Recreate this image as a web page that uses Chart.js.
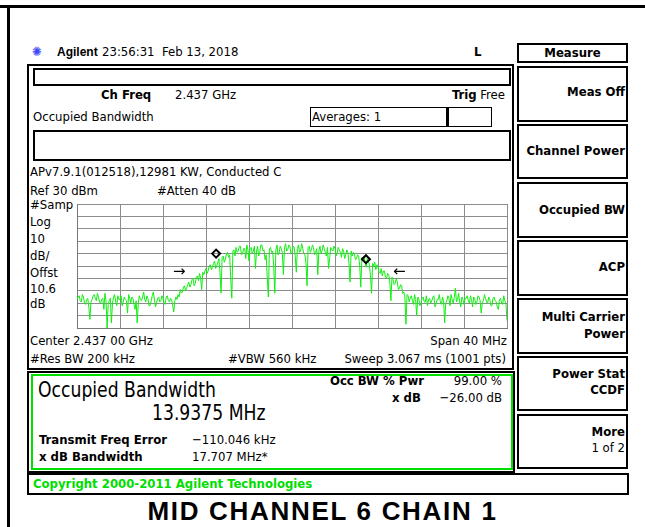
<!DOCTYPE html>
<html>
<head>
<meta charset="utf-8">
<script src="https://cdn.jsdelivr.net/npm/chart.js@4"></script>
<style>
body { margin: 0; background: #fff; }
#page { position: relative; width: 645px; height: 527px; overflow: hidden; background: #fff; }
.t { position: absolute; font-family: "DejaVu Sans Condensed", "DejaVu Sans", sans-serif; font-size: 13px; line-height: 14px; white-space: nowrap; color: #000; }
.b { font-weight: bold; }
.big { font-size: 22px; line-height: 24px; transform: scaleX(0.87); transform-origin: left center; }
.box { position: absolute; box-sizing: border-box; border: 2px solid #000; }
.green { color: #00dd00; }
#plot { position: absolute; left: 71px; top: 198px; width: 442px; height: 136px; }
#title { position: absolute; left: 0; width: 645px; top: 496px; text-align: center; font-family: "Liberation Sans", Arial, sans-serif; font-weight: bold; font-size: 26px; line-height: 30px; letter-spacing: 1.7px; }
</style>
</head>
<body>
<div id="page">
  <!-- outer frame -->
  <div style="position:absolute;left:0;top:5px;width:645px;height:3px;background:#000"></div>
  <div style="position:absolute;left:7px;top:5px;width:3px;height:522px;background:#000"></div>

  <!-- header -->
  <div class="t" style="left:32px;top:45px;color:#3d4cf5">✺</div>
  <div class="t b" style="left:57px;top:45px;font-family:'Liberation Sans',Arial,sans-serif;font-size:12px">Agilent</div>
  <div class="t" style="left:102px;top:45px">23:56:31&nbsp;&nbsp;Feb 13, 2018</div>
  <div class="t b" style="left:474px;top:45px">L</div>

  <!-- main screen frame -->
  <div class="box" style="left:27px;top:64px;width:487px;height:306px"></div>
  <div class="box" style="left:33px;top:68px;width:478px;height:18px"></div>
  <div class="t b" style="left:101px;top:88px">Ch Freq</div>
  <div class="t" style="left:175px;top:88px">2.437 GHz</div>
  <div class="t" style="right:140px;top:88px"><b>Trig</b>&nbsp;Free</div>
  <div class="t" style="left:33px;top:110px">Occupied Bandwidth</div>
  <div class="box" style="left:310px;top:107px;width:139px;height:20px;border-width:1.5px"></div>
  <div class="box" style="left:446px;top:107px;width:46px;height:20px;border-width:1.5px;border-left-width:3px"></div>
  <div class="t" style="left:312px;top:110px">Averages: 1</div>
  <div class="box" style="left:33px;top:130px;width:478px;height:31px"></div>
  <div class="t" style="left:30px;top:165px">APv7.9.1(012518),12981 KW, Conducted C</div>
  <div class="t" style="left:30px;top:184px">Ref 30 dBm</div>
  <div class="t" style="left:157px;top:184px">#Atten 40 dB</div>
  <div class="t" style="left:30px;top:198px">#Samp</div>
  <div class="t" style="left:30px;top:215px">Log</div>
  <div class="t" style="left:30px;top:232px">10</div>
  <div class="t" style="left:30px;top:249px">dB/</div>
  <div class="t" style="left:30px;top:266px">Offst</div>
  <div class="t" style="left:30px;top:282px">10.6</div>
  <div class="t" style="left:30px;top:297px">dB</div>
  <div class="t" style="left:30px;top:334px">Center 2.437 00 GHz</div>
  <div class="t" style="right:138px;top:334px">Span 40 MHz</div>
  <div class="t" style="left:30px;top:352px">#Res BW 200 kHz</div>
  <div class="t" style="left:228px;top:352px">#VBW 560 kHz</div>
  <div class="t" style="right:139px;top:352px">Sweep 3.067 ms (1001 pts)</div>

  <div id="plot"><canvas id="spectrumChart"></canvas></div>

  <!-- results -->
  <div class="box" style="left:27px;top:371px;width:488px;height:102px"></div>
  <div class="box" style="left:31px;top:374px;width:482px;height:96px;border-color:#00e000"></div>
  <div class="t big" style="left:38px;top:378px">Occupied Bandwidth</div>
  <div class="t big" style="left:152px;top:401px">13.9375 MHz</div>
  <div class="t b" style="left:330px;top:374px">Occ BW % Pwr</div>
  <div class="t" style="right:143px;top:374px">99.00 %</div>
  <div class="t b" style="left:392px;top:391px">x dB</div>
  <div class="t" style="right:143px;top:391px">−26.00 dB</div>
  <div class="t b" style="left:39px;top:433px">Transmit Freq Error</div>
  <div class="t" style="left:192px;top:433px">−110.046 kHz</div>
  <div class="t b" style="left:39px;top:450px">x dB Bandwidth</div>
  <div class="t" style="left:192px;top:450px">17.707 MHz*</div>

  <div class="box" style="left:27px;top:473px;width:602px;height:22px"></div>
  <div class="t b green" style="left:33px;top:477px">Copyright 2000-2011 Agilent Technologies</div>

  <!-- soft keys -->
  <div class="box" style="left:517px;top:43px;width:111px;height:20px"></div>
  <div class="t b" style="left:517px;width:111px;text-align:center;top:46px">Measure</div>
  <div class="box" style="left:517px;top:66px;width:111px;height:56px"></div>
  <div class="t b" style="right:20px;top:85px">Meas Off</div>
  <div class="box" style="left:517px;top:124px;width:111px;height:55px"></div>
  <div class="t b" style="right:20px;top:144px">Channel Power</div>
  <div class="box" style="left:517px;top:182px;width:111px;height:56px"></div>
  <div class="t b" style="right:20px;top:203px">Occupied BW</div>
  <div class="box" style="left:517px;top:240px;width:111px;height:56px"></div>
  <div class="t b" style="right:20px;top:260px">ACP</div>
  <div class="box" style="left:517px;top:298px;width:111px;height:56px"></div>
  <div class="t b" style="right:20px;top:310px">Multi Carrier</div>
  <div class="t b" style="right:20px;top:327px">Power</div>
  <div class="box" style="left:517px;top:356px;width:111px;height:55px"></div>
  <div class="t b" style="right:20px;top:367px">Power Stat</div>
  <div class="t b" style="right:20px;top:383px">CCDF</div>
  <div class="box" style="left:517px;top:414px;width:111px;height:55px"></div>
  <div class="t b" style="right:20px;top:425px">More</div>
  <div class="t" style="right:20px;top:441px">1 of 2</div>

  <div id="title">MID CHANNEL 6 CHAIN 1</div>
</div>

<script>
// Sweep settings
const centerMHz = 2437;
const spanMHz = 40;
const refLevelDbm = 30;
const dbPerDiv = 10;

const traceDbm = [
  -47, -45, -44, -48, -49, -43, -45, -50, -51, -47, -46, -53, -63, -49, -47, -44, -43, -46, -48, -42,
  -45, -49, -50, -47, -46, -55, -42, -48, -70, -51, -48, -46, -66, -50, -45, -43, -49, -52, -44, -47,
  -47, -44, -52, -49, -45, -47, -48, -58, -43, -46, -50, -45, -46, -51, -55, -48, -66, -50, -44, -47,
  -48, -45, -41, -47, -49, -44, -46, -52, -52, -48, -44, -41, -47, -53, -50, -46, -45, -49, -48, -44,
  -46, -50, -51, -45, -44, -48, -49, -46, -47, -52, -57, -48, -45, -47, -43, -45, -39, -42, -41, -37,
  -36, -40, -38, -35, -33, -37, -35, -31, -30, -36, -34, -29, -28, -32, -26, -30, -39, -25, -27, -24,
  -22, -26, -24, -20, -19, -23, -21, -18, -16, -22, -20, -17, -14, -25, -42, -13, -12, -17, -15, -10,
  -9, -13, -11, -30, -46, -8, -7, -12, -5, -9, -8, -4, -4, -11, -10, -6, -6, -14, -3, -7,
  -16, -6, -5, -10, -8, -4, -22, -8, -4, -12, -9, -3, -3, -8, -7, -15, -11, -30, -45, -6,
  -5, -9, -8, -20, -42, -7, -3, -11, -10, -4, -6, -9, -27, -5, -2, -8, -7, -3, -4, -10,
  -9, -4, -5, -12, -25, -6, -3, -9, -8, -2, -6, -10, -11, -18, -36, -5, -4, -9, -7, -3,
  -5, -11, -9, -6, -27, -8, -4, -10, -8, -3, -6, -9, -12, -5, -22, -14, -5, -7, -8, -4,
  -6, -12, -10, -5, -7, -9, -13, -6, -8, -14, -11, -7, -9, -18, -33, -8, -12, -9, -10, -15,
  -14, -11, -12, -20, -37, -13, -15, -12, -17, -21, -14, -16, -19, -28, -42, -18, -20, -17, -23, -19,
  -21, -25, -26, -22, -28, -24, -24, -29, -30, -26, -27, -33, -48, -29, -31, -35, -34, -30, -33, -39,
  -38, -35, -36, -42, -41, -45, -67, -43, -44, -49, -46, -44, -48, -51, -43, -47, -60, -45, -47, -52,
  -50, -46, -45, -49, -49, -44, -52, -47, -46, -50, -48, -45, -44, -53, -51, -47, -47, -43, -49, -51,
  -45, -48, -66, -50, -48, -44, -46, -52, -43, -47, -50, -45, -38, -49, -47, -42, -49, -53, -45, -47,
  -51, -46, -46, -44, -48, -50, -44, -47, -53, -45, -47, -51, -49, -44, -45, -48, -58, -50, -48, -43,
  -46, -49, -50, -45, -47, -52, -52, -46, -45, -48, -49, -53, -55, -47, -46, -50, -51, -44, -48, -50,
  -64
];

// Occupied BW markers (offset from center, MHz) and their levels
const markerOffsetMHz = [-7.06, 6.88];
const markerDbm = [-10, -14.5];

// x dB bandwidth arrows
const arrowOffsetMHz = [-9.9, 9.4];
const arrowDbm = [-25, -25];
const arrowGlyphs = ['→', '←'];

const startMHz = centerMHz - spanMHz / 2;
const stepMHz = spanMHz / (traceDbm.length - 1);
const tracePoints = traceDbm.map((v, i) => ({ x: startMHz + i * stepMHz, y: v }));
const markerPoints = markerOffsetMHz.map((f, i) => ({ x: centerMHz + f, y: markerDbm[i] }));

const arrowPlugin = {
    id: 'arrows',
    afterDatasetsDraw(chart) {
        const { ctx, scales } = chart;
        ctx.save();
        ctx.font = '15px "DejaVu Sans"';
        ctx.fillStyle = '#000';
        ctx.textBaseline = 'middle';
        arrowOffsetMHz.forEach((f, i) => {
            const px = scales.x.getPixelForValue(centerMHz + f);
            const py = scales.y.getPixelForValue(arrowDbm[i]);
            ctx.textAlign = i === 0 ? 'right' : 'left';
            ctx.fillText(arrowGlyphs[i], px, py);
        });
        ctx.restore();
    }
};

const ctx = document.getElementById('spectrumChart').getContext('2d');
const spectrumChart = new Chart(ctx, {
    type: 'line',
    data: {
        datasets: [{
            label: 'Markers',
            data: markerPoints,
            showLine: false,
            pointStyle: 'rectRot',
            pointRadius: 4,
            pointBorderWidth: 2,
            pointBorderColor: '#000',
            pointBackgroundColor: 'rgba(0,0,0,0)',
            order: 0
        }, {
            label: 'Trace',
            data: tracePoints,
            borderColor: '#11ee11',
            borderWidth: 1,
            pointRadius: 0,
            tension: 0,
            order: 1
        }]
    },
    options: {
        responsive: true,
        maintainAspectRatio: false,
        animation: false,
        layout: { padding: 1 },
        plugins: {
            legend: { display: false },
            tooltip: { enabled: false }
        },
        scales: {
            x: {
                type: 'linear',
                min: startMHz,
                max: startMHz + spanMHz,
                ticks: { display: false, stepSize: spanMHz / 10 },
                grid: { color: '#8c8c8c', drawTicks: false },
                border: { color: '#777', width: 1 }
            },
            y: {
                min: refLevelDbm - 10 * dbPerDiv,
                max: refLevelDbm,
                ticks: { display: false, stepSize: dbPerDiv },
                grid: { color: '#8c8c8c', drawTicks: false },
                border: { color: '#777', width: 1 }
            }
        }
    },
    plugins: [arrowPlugin]
});
</script>
</body>
</html>
